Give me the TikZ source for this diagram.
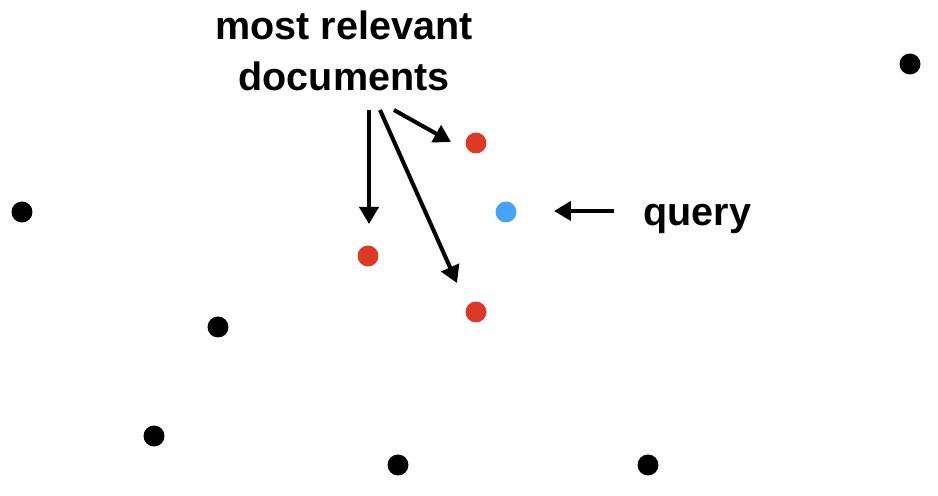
\documentclass[tikz,border=0pt]{standalone}
\usepackage{fontspec}
\setmainfont{Liberation Sans}
\usetikzlibrary{arrows.meta}

\tikzset{
  dot/.style={circle, fill=black, inner sep=0pt, minimum size=0.42cm},
  reddot/.style={dot, fill=docred},
  bluedot/.style={dot, fill=qblue},
  pointer/.style={line width=2.3pt, -{Triangle[length=0.34cm,width=0.38cm]}},
  bigtext/.style={font=\bfseries\fontsize{22.5}{29}\selectfont, inner sep=0pt}
}
\definecolor{docred}{HTML}{DB3A28}
\definecolor{qblue}{HTML}{48A2F5}

\begin{document}
\begin{tikzpicture}[x=0.02cm, y=-0.02cm]
\useasboundingbox (0,0) rectangle (938,496);
% Other documents
\node[dot] (d1) at (910,64) {};
\node[dot] (d2) at (22,212) {};
\node[dot] (d3) at (218,327) {};
\node[dot] (d4) at (154,436) {};
\node[dot] (d5) at (398,465) {};
\node[dot] (d6) at (648,465) {};
% Most relevant documents and the query
\node[reddot] (r1) at (476,143) {};
\node[reddot] (r2) at (368,256) {};
\node[reddot] (r3) at (476,312) {};
\node[bluedot] (q) at (506,212) {};
% Labels
\node[bigtext, align=center] (docs) at (344,51) {most relevant\\documents};
\node[bigtext, anchor=base west] (qlabel) at (643,226) {query};
% Arrows
\coordinate (s1) at (369,110);
\coordinate (s2) at (380,110);
\coordinate (s3) at (394,110);
\coordinate (t1) at (369,224);
\coordinate (t2) at (457,283);
\coordinate (t3) at (451,142);
\draw[pointer] (s1) -- (t1);
\draw[pointer] (s2) -- (t2);
\draw[pointer] (s3) -- (t3);
\coordinate (qs) at (614,211);
\coordinate (qt) at (554,211);
\draw[pointer] (qs) -- (qt);
\end{tikzpicture}
\end{document}
